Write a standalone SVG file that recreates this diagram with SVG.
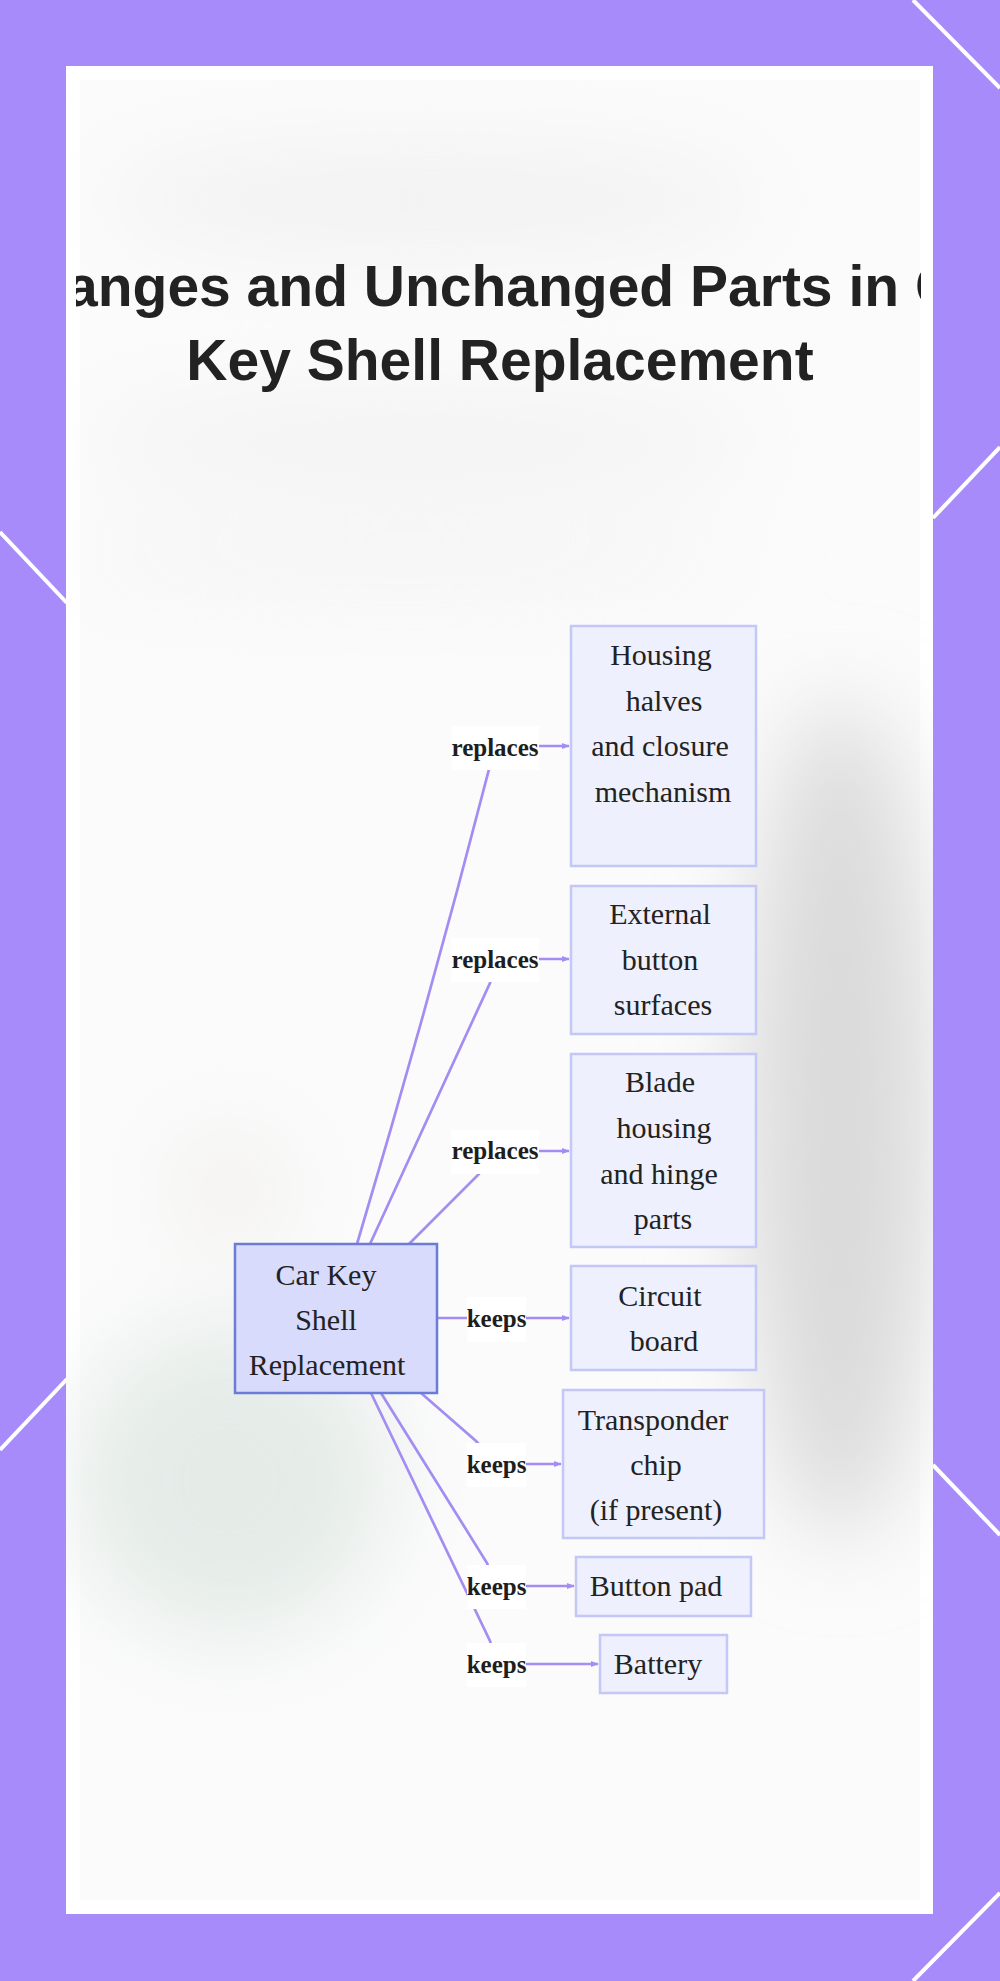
<svg xmlns="http://www.w3.org/2000/svg" width="1000" height="1981" viewBox="0 0 1000 1981">
  <defs>
    <style>
      .title { font-family: "Liberation Sans", Arial, sans-serif; font-weight: bold; font-size: 57px; fill: #222222; text-anchor: middle; }
      .node-main rect { fill: #d8dbfb; stroke: #6b7bd8; stroke-width: 2.5; }
      .node rect { fill: #eef0fd; stroke: #c3c8f6; stroke-width: 2.5; }
      .node text, .node-main text { font-family: "Liberation Serif", "Times New Roman", serif; font-size: 30px; fill: #222222; text-anchor: middle; }
      .edge { fill: none; stroke: #a48df2; stroke-width: 2.7; marker-end: url(#arrow); }
      .elabel rect { fill: #ffffff; }
      .elabel text { font-family: "Liberation Serif", "Times New Roman", serif; font-weight: bold; font-size: 25px; fill: #1e1e1e; text-anchor: middle; }
      .deco { stroke: #ffffff; stroke-width: 4; fill: none; }
    </style>
    <marker id="arrow" viewBox="0 0 10 10" refX="9" refY="5" markerWidth="8" markerHeight="8" markerUnits="userSpaceOnUse" orient="auto">
      <path d="M0,1 L10,5 L0,9 Z" fill="#a48df2"/>
    </marker>
    <filter id="blur" x="-50%" y="-50%" width="200%" height="200%">
      <feGaussianBlur stdDeviation="45"/>
    </filter>
    <clipPath id="cardclip">
      <rect x="66" y="66" width="867" height="1848"/>
    </clipPath>
    <clipPath id="titleclip">
      <rect x="76" y="66" width="845" height="400"/>
    </clipPath>
  </defs>

  <!-- frame -->
  <rect x="0" y="0" width="1000" height="1981" fill="#a78bfa"/>
  <g id="decor">
    <line class="deco" x1="913" y1="0" x2="1000" y2="88"/>
    <line class="deco" x1="933" y1="518" x2="1000" y2="447"/>
    <line class="deco" x1="0" y1="532" x2="67" y2="603"/>
    <line class="deco" x1="0" y1="1450" x2="67" y2="1379"/>
    <line class="deco" x1="933" y1="1465" x2="1000" y2="1535"/>
    <line class="deco" x1="1000" y1="1893" x2="913" y2="1981"/>
  </g>

  <!-- card with soft blurred backdrop -->
  <rect x="66" y="66" width="867" height="1848" fill="#ffffff"/>
  <g clip-path="url(#cardclip)">
    <rect x="80" y="80" width="840" height="1820" fill="#fbfbfb"/>
    <g filter="url(#blur)">
      <ellipse cx="430" cy="200" rx="330" ry="50" fill="#f1f1f1"/>
      <ellipse cx="420" cy="440" rx="340" ry="35" fill="#f0f0f0"/>
      <ellipse cx="400" cy="560" rx="340" ry="25" fill="#f2f2f2"/>
      <ellipse cx="840" cy="1120" rx="95" ry="420" fill="#dadada"/>
      <ellipse cx="230" cy="1480" rx="160" ry="160" fill="#e5ece8"/>
      <ellipse cx="230" cy="1190" rx="60" ry="60" fill="#f2f1ef"/>
    </g>
    <rect x="66" y="66" width="867" height="14" fill="#ffffff"/>
    <rect x="66" y="1900" width="867" height="14" fill="#ffffff"/>
  </g>

  <!-- title (clipped at the card edges, as in the source) -->
  <g id="title" clip-path="url(#titleclip)">
    <text class="title" x="500" y="306">Changes and Unchanged Parts in Car</text>
    <text class="title" x="500" y="380">Key Shell Replacement</text>
  </g>

  <!-- connectors -->
  <g id="connectors">
    <path class="edge" d="M357,1244 Q430,1000 495,746 L569,746"/>
    <path class="edge" d="M370,1244 L490,983 L495,959 L569,959"/>
    <path class="edge" d="M409,1244 L479,1174 L495,1151 L569,1151"/>
    <path class="edge" d="M437,1318 L569,1318"/>
    <path class="edge" d="M421,1393 L476,1441 L496,1464 L561,1464"/>
    <path class="edge" d="M381,1393 L487,1563 L496,1586 L574,1586"/>
    <path class="edge" d="M371,1393 L490,1641 L496,1664 L598,1664"/>
  </g>

  <!-- edge labels -->
  <g id="edge-labels">
    <g class="elabel"><rect x="451" y="726" width="88" height="44"/><text x="495" y="756">replaces</text></g>
    <g class="elabel"><rect x="451" y="938" width="88" height="44"/><text x="495" y="968">replaces</text></g>
    <g class="elabel"><rect x="451" y="1130" width="88" height="44"/><text x="495" y="1159">replaces</text></g>
    <g class="elabel"><rect x="467" y="1297" width="59" height="45"/><text x="496.5" y="1327">keeps</text></g>
    <g class="elabel"><rect x="467" y="1443" width="59" height="44"/><text x="496.5" y="1473">keeps</text></g>
    <g class="elabel"><rect x="467" y="1565" width="59" height="44"/><text x="496.5" y="1595">keeps</text></g>
    <g class="elabel"><rect x="467" y="1643" width="59" height="44"/><text x="496.5" y="1673">keeps</text></g>
  </g>

  <!-- nodes -->
  <g id="node-main" class="node-main">
    <rect x="235" y="1244" width="202" height="149"/>
    <text x="326" y="1285">Car Key</text>
    <text x="326" y="1330">Shell</text>
    <text x="327" y="1375">Replacement</text>
  </g>
  <g id="node-housing" class="node">
    <rect x="571" y="626" width="185" height="240"/>
    <text x="661" y="665">Housing</text>
    <text x="664" y="711">halves</text>
    <text x="660" y="756">and closure</text>
    <text x="663" y="802">mechanism</text>
  </g>
  <g id="node-external" class="node">
    <rect x="571" y="886" width="185" height="148"/>
    <text x="660" y="924">External</text>
    <text x="660" y="970">button</text>
    <text x="663" y="1015">surfaces</text>
  </g>
  <g id="node-blade" class="node">
    <rect x="571" y="1054" width="185" height="193"/>
    <text x="660" y="1092">Blade</text>
    <text x="664" y="1138">housing</text>
    <text x="659" y="1184">and hinge</text>
    <text x="663" y="1229">parts</text>
  </g>
  <g id="node-circuit" class="node">
    <rect x="571" y="1266" width="185" height="104"/>
    <text x="660" y="1306">Circuit</text>
    <text x="664" y="1351">board</text>
  </g>
  <g id="node-transponder" class="node">
    <rect x="563" y="1390" width="201" height="148"/>
    <text x="653" y="1430">Transponder</text>
    <text x="656" y="1475">chip</text>
    <text x="656" y="1520">(if present)</text>
  </g>
  <g id="node-buttonpad" class="node">
    <rect x="576" y="1557" width="175" height="59"/>
    <text x="656" y="1596">Button pad</text>
  </g>
  <g id="node-battery" class="node">
    <rect x="600" y="1635" width="127" height="58"/>
    <text x="658" y="1674">Battery</text>
  </g>
</svg>
